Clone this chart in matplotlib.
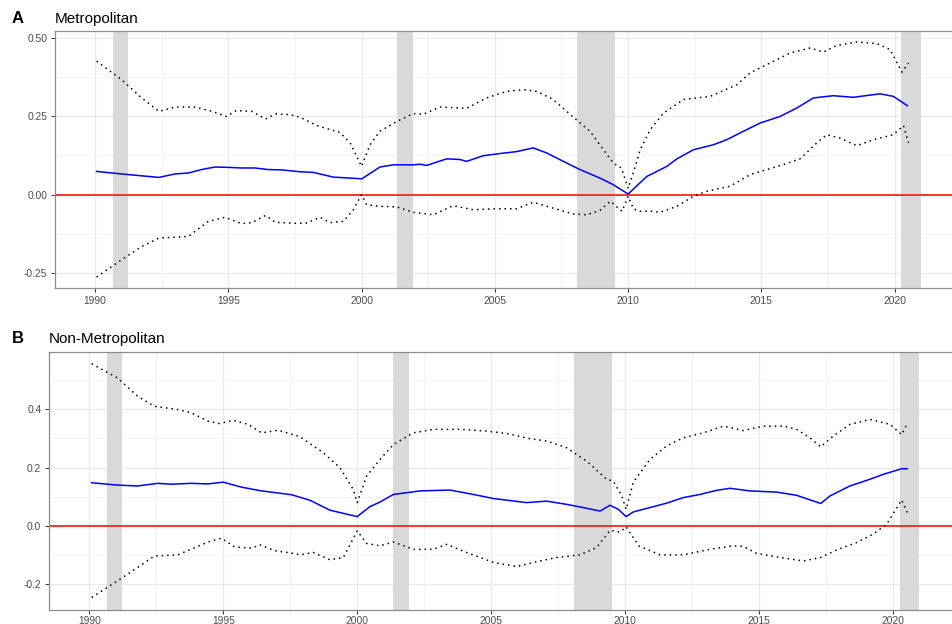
import numpy as np
import matplotlib
matplotlib.use("Agg")
import matplotlib.pyplot as plt
from matplotlib.ticker import MultipleLocator, FormatStrFormatter

plt.rcParams["font.family"] = ["Liberation Sans", "DejaVu Sans"]

# recession periods (start, end) in decimal years
recessions = [(1990.67, 1991.22), (2001.33, 2001.92), (2008.08, 2009.50), (2020.25, 2020.97)]

# Metropolitan: estimate and upper/lower bounds
met_fit_yr = [1990.06, 1991.0, 1992.4, 1993.0, 1993.5, 1994.0, 1994.5, 1995.0, 1995.5, 1996.0,
              1996.5, 1997.0, 1997.69, 1998.19, 1998.94, 1999.94, 2000.0, 2000.69, 2001.19, 2001.94,
              2002.2, 2002.44, 2003.19, 2003.69, 2003.94, 2004.56, 2005.19, 2005.81, 2006.44, 2006.94,
              2007.69, 2008.19, 2008.94, 2009.44, 2010.0, 2010.7, 2011.45, 2011.83, 2012.45, 2013.2,
              2013.7, 2014.33, 2014.95, 2015.7, 2016.33, 2016.95, 2017.7, 2018.45, 2019.45, 2019.95,
              2020.48]
met_fit = [0.074, 0.066, 0.055, 0.066, 0.069, 0.080, 0.088, 0.087, 0.085, 0.085,
           0.080, 0.079, 0.073, 0.071, 0.056, 0.051, 0.050, 0.088, 0.095, 0.095,
           0.097, 0.093, 0.114, 0.112, 0.106, 0.124, 0.131, 0.137, 0.149, 0.133,
           0.101, 0.080, 0.053, 0.032, 0.002, 0.058, 0.090, 0.114, 0.143, 0.159,
           0.175, 0.202, 0.228, 0.249, 0.276, 0.308, 0.315, 0.310, 0.321, 0.313,
           0.283]

met_hi_yr = [1990.06, 1991.0, 1991.75, 1992.4, 1993.0, 1993.75, 1994.4, 1994.94, 1995.3, 1995.88,
             1996.4, 1996.77, 1997.3, 1997.69, 1998.32, 1999.19, 1999.57, 2000.0, 2000.32, 2000.69,
             2001.32, 2001.94, 2002.32, 2002.94, 2003.94, 2004.69, 2005.44, 2006.07, 2006.57, 2007.19,
             2007.94, 2008.57, 2009.1, 2009.45, 2009.75, 2010.0, 2010.27, 2010.45, 2010.83, 2011.33,
             2012.08, 2013.08, 2014.08, 2014.58, 2015.2, 2016.08, 2016.83, 2017.33, 2017.83, 2018.58,
             2019.33, 2019.83, 2020.27, 2020.52]
met_hi = [0.425, 0.366, 0.308, 0.265, 0.279, 0.279, 0.265, 0.249, 0.268, 0.265,
          0.241, 0.257, 0.255, 0.247, 0.220, 0.198, 0.165, 0.090, 0.159, 0.202,
          0.233, 0.258, 0.256, 0.279, 0.275, 0.308, 0.329, 0.334, 0.329, 0.303,
          0.247, 0.202, 0.140, 0.100, 0.085, 0.020, 0.090, 0.143, 0.207, 0.260,
          0.303, 0.313, 0.350, 0.388, 0.414, 0.451, 0.467, 0.454, 0.475, 0.486,
          0.481, 0.462, 0.390, 0.419]

met_lo_yr = [1990.06, 1991.0, 1991.75, 1992.4, 1993.5, 1994.25, 1994.88, 1995.5, 1995.88, 1996.4,
             1996.77, 1997.5, 1997.94, 1998.44, 1998.82, 1999.32, 1999.69, 2000.0, 2000.19, 2000.69,
             2001.32, 2001.94, 2002.69, 2003.44, 2004.19, 2004.94, 2005.81, 2006.44, 2007.19, 2007.94,
             2008.44, 2008.94, 2009.33, 2009.77, 2010.0, 2010.2, 2010.45, 2010.83, 2011.2, 2011.83,
             2012.45, 2012.95, 2013.83, 2014.58, 2015.83, 2016.45, 2017.08, 2017.45, 2017.95, 2018.58,
             2019.2, 2019.95, 2020.33, 2020.52]
met_lo = [-0.262, -0.207, -0.165, -0.138, -0.133, -0.085, -0.072, -0.092, -0.089, -0.066,
          -0.088, -0.091, -0.090, -0.072, -0.089, -0.085, -0.048, 0.000, -0.032, -0.037,
          -0.039, -0.056, -0.064, -0.035, -0.048, -0.045, -0.045, -0.024, -0.043, -0.061,
          -0.064, -0.050, -0.021, -0.053, -0.005, -0.045, -0.053, -0.052, -0.056, -0.037,
          -0.005, 0.011, 0.027, 0.064, 0.096, 0.114, 0.165, 0.191, 0.180, 0.156,
          0.175, 0.191, 0.220, 0.165]

# Non-Metropolitan: estimate and upper/lower bounds
non_fit_yr = [1990.09, 1991.06, 1991.81, 1992.56, 1993.06, 1993.8, 1994.43, 1995.0, 1995.68, 1996.43,
              1997.12, 1997.55, 1998.24, 1998.98, 2000.0, 2000.47, 2000.85, 2001.35, 2002.34, 2003.46,
              2004.33, 2005.08, 2006.32, 2007.07, 2007.81, 2008.43, 2009.06, 2009.43, 2009.74, 2010.03,
              2010.3, 2010.92, 2011.54, 2012.16, 2012.79, 2013.41, 2013.91, 2014.65, 2015.65, 2016.39,
              2017.29, 2017.64, 2018.38, 2019.13, 2019.63, 2020.31, 2020.52]
non_fit = [0.148, 0.140, 0.137, 0.146, 0.143, 0.146, 0.144, 0.150, 0.133, 0.120,
           0.112, 0.107, 0.088, 0.054, 0.032, 0.066, 0.082, 0.108, 0.120, 0.123,
           0.108, 0.094, 0.080, 0.085, 0.074, 0.063, 0.051, 0.071, 0.057, 0.032,
           0.048, 0.063, 0.078, 0.097, 0.108, 0.122, 0.129, 0.120, 0.116, 0.105,
           0.077, 0.103, 0.137, 0.160, 0.177, 0.196, 0.196]

non_hi_yr = [1990.09, 1991.06, 1991.81, 1992.43, 1993.3, 1993.8, 1994.43, 1994.87, 1995.37, 1995.93,
             1996.43, 1997.05, 1997.86, 1998.73, 1999.35, 1999.85, 2000.0, 2000.35, 2000.85, 2001.35,
             2002.09, 2002.84, 2003.83, 2004.83, 2005.57, 2006.44, 2007.07, 2007.81, 2008.56, 2009.3,
             2009.55, 2009.87, 2010.03, 2010.3, 2010.92, 2011.54, 2012.16, 2012.91, 2013.66, 2014.4,
             2015.15, 2015.9, 2016.39, 2016.89, 2017.29, 2017.76, 2018.38, 2019.13, 2019.88, 2020.31,
             2020.52]
non_hi = [0.556, 0.507, 0.444, 0.410, 0.399, 0.388, 0.359, 0.351, 0.362, 0.348,
          0.319, 0.328, 0.306, 0.251, 0.200, 0.125, 0.080, 0.171, 0.228, 0.279,
          0.319, 0.331, 0.331, 0.325, 0.317, 0.299, 0.291, 0.268, 0.222, 0.160,
          0.154, 0.103, 0.057, 0.150, 0.228, 0.274, 0.302, 0.319, 0.342, 0.327,
          0.342, 0.342, 0.331, 0.302, 0.271, 0.308, 0.348, 0.365, 0.348, 0.313,
          0.351]

non_lo_yr = [1990.09, 1991.06, 1991.81, 1992.43, 1993.3, 1993.8, 1994.43, 1994.93, 1995.43, 1996.05,
             1996.37, 1996.93, 1997.55, 1997.86, 1998.36, 1998.98, 1999.48, 2000.0, 2000.35, 2000.85,
             2001.35, 2002.09, 2002.84, 2003.34, 2004.08, 2005.08, 2005.95, 2006.57, 2007.44, 2008.31,
             2008.93, 2009.43, 2009.8, 2010.03, 2010.5, 2011.29, 2012.16, 2013.16, 2014.03, 2014.4,
             2014.9, 2015.65, 2016.64, 2017.29, 2017.89, 2018.63, 2019.25, 2019.75, 2020.31, 2020.52]
non_lo = [-0.245, -0.188, -0.142, -0.103, -0.099, -0.080, -0.055, -0.042, -0.072, -0.076,
          -0.065, -0.085, -0.093, -0.099, -0.091, -0.116, -0.108, -0.017, -0.060, -0.068,
          -0.055, -0.080, -0.080, -0.063, -0.091, -0.125, -0.139, -0.125, -0.108, -0.099,
          -0.074, -0.015, -0.021, -0.003, -0.068, -0.099, -0.099, -0.080, -0.068, -0.070,
          -0.094, -0.106, -0.120, -0.108, -0.082, -0.057, -0.028, 0.006, 0.089, 0.046]

W, H = 952, 624
XLIM = (1988.5, 2022.45)


def panel(ax, fit, hi, lo, ylim, ystep, yfmt, xpad):
    ax.set_xlim(*XLIM)
    ax.set_ylim(*ylim)
    ax.xaxis.set_major_locator(MultipleLocator(5))
    ax.xaxis.set_minor_locator(MultipleLocator(2.5))
    ax.yaxis.set_major_locator(MultipleLocator(ystep))
    ax.yaxis.set_minor_locator(MultipleLocator(ystep / 2))
    ax.yaxis.set_major_formatter(FormatStrFormatter(yfmt))
    ax.grid(which="major", color="#EBEBEB", lw=1.0, zorder=0)
    ax.grid(which="minor", color="#F3F3F3", lw=0.6, zorder=0)
    ax.set_axisbelow(True)
    for a, b in recessions:
        ax.axvspan(a, b, color="#D9D9D9", lw=0, zorder=1)
    ax.axhline(0, color="#FF0000", lw=1.1, zorder=2)
    ax.plot(hi[0], hi[1], color="black", lw=1.1, ls=(0, (1, 2.6)), zorder=3)
    ax.plot(lo[0], lo[1], color="black", lw=1.1, ls=(0, (1, 2.6)), zorder=3)
    ax.plot(fit[0], fit[1], color="#0000FF", lw=1.1, zorder=4)
    for s in ax.spines.values():
        s.set_color("#8C8C8C")
        s.set_linewidth(0.9)
    ax.tick_params(which="major", length=3, width=0.7, color="#333333",
                   labelsize=7.4, labelcolor="#4D4D4D", pad=2.5)
    ax.tick_params(axis="x", which="major", pad=xpad)
    ax.tick_params(which="minor", length=0)


fig = plt.figure(figsize=(W / 100, H / 100), dpi=100)

# Panel A
ax1 = fig.add_axes([55 / W, 1 - 288 / H, (960 - 55) / W, (288 - 31) / H])
panel(ax1, (met_fit_yr, met_fit), (met_hi_yr, met_hi), (met_lo_yr, met_lo),
      (-0.297, 0.521), 0.25, "%.2f", 3.0)
fig.text(12 / W, 1 - 23 / H, "A", fontsize=12, fontweight="bold", va="baseline")
fig.text(55 / W, 1 - 23 / H, "Metropolitan", fontsize=11, va="baseline")

# Panel B
ax2 = fig.add_axes([49 / W, 1 - 610 / H, (959 - 49) / W, (610 - 352.3) / H])
panel(ax2, (non_fit_yr, non_fit), (non_hi_yr, non_hi), (non_lo_yr, non_lo),
      (-0.288, 0.595), 0.2, "%.1f", 1.2)
fig.text(12 / W, 1 - 343 / H, "B", fontsize=12, fontweight="bold", va="baseline")
fig.text(49 / W, 1 - 343 / H, "Non-Metropolitan", fontsize=11, va="baseline")

fig.savefig("out.png", dpi=100)
